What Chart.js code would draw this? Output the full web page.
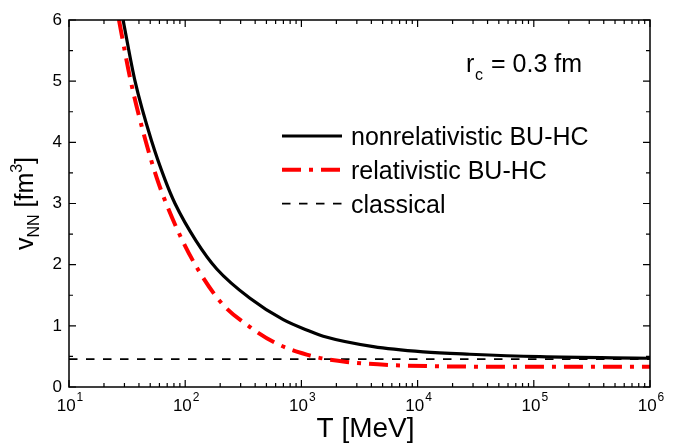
<!DOCTYPE html>
<html>
<head>
<meta charset="utf-8">
<script src="https://cdn.jsdelivr.net/npm/chart.js@4.4.0/dist/chart.umd.min.js"></script>
<style>
html, body { margin: 0; padding: 0; background: #fff; }
#wrap { width: 676px; height: 443px; }
</style>
</head>
<body>
<div id="wrap"><canvas id="chart" width="676" height="443"></canvas></div>
<script>
'use strict';
// T [MeV] and v_NN [fm^3]
var tNonRel = [29.2, 37.0, 51.8, 67.0, 81.7, 124, 187, 361, 698, 1185, 1542, 4160, 11200, 28200, 113000, 1000000];
var vNonRel = [6.0, 5.0, 4.0, 3.39, 3.0, 2.39, 1.93, 1.45, 1.10, 0.91, 0.83, 0.66, 0.575, 0.535, 0.495, 0.47];
var tRel = [26.9, 34.0, 46.0, 56.9, 67.0, 93.3, 130, 206, 361, 612, 1110, 1542, 2455, 5780, 21700, 102000, 1000000];
var vRel = [6.0, 5.0, 4.0, 3.42, 3.05, 2.42, 1.91, 1.37, 0.98, 0.71, 0.53, 0.465, 0.41, 0.36, 0.335, 0.33, 0.33];
var tClassical = [10, 1000000];
var vClassical = [0.455, 0.455];
var xDecades = [10, 100, 1000, 10000, 100000, 1000000];
var xExponents = ['1', '2', '3', '4', '5', '6'];
var yTicks = [0, 1, 2, 3, 4, 5, 6];
var seriesNames = ['nonrelativistic BU-HC', 'relativistic BU-HC', 'classical'];

var FONT = "'Liberation Sans', Arial, sans-serif";

function pts(xs, ys) {
    return xs.map(function(x, i) { return {x: x, y: ys[i]}; });
}

// inward ticks on all four sides, frame, x labels, titles, legend
var decor = {
    id: 'decor',
    afterDraw: function(chart) {
        var ctx = chart.ctx, a = chart.chartArea;
        var sx = chart.scales.x, sy = chart.scales.y;
        ctx.save();
        ctx.strokeStyle = '#000';
        ctx.lineWidth = 1.5;
        ctx.setLineDash([]);
        ctx.strokeRect(a.left, a.top, a.right - a.left, a.bottom - a.top);

        function vtick(px, len) {
            ctx.beginPath();
            ctx.moveTo(px, a.bottom); ctx.lineTo(px, a.bottom - len);
            ctx.moveTo(px, a.top); ctx.lineTo(px, a.top + len);
            ctx.stroke();
        }
        function htick(py, len) {
            ctx.beginPath();
            ctx.moveTo(a.left, py); ctx.lineTo(a.left + len, py);
            ctx.moveTo(a.right, py); ctx.lineTo(a.right - len, py);
            ctx.stroke();
        }
        ctx.lineWidth = 1.2;
        xDecades.forEach(function(d, i) {
            vtick(sx.getPixelForValue(d), 7);
            if (i < xDecades.length - 1) {
                for (var m = 2; m <= 9; m++) vtick(sx.getPixelForValue(d * m), 4);
            }
        });
        yTicks.forEach(function(v, i) {
            htick(sy.getPixelForValue(v), 7);
            if (i < yTicks.length - 1) htick(sy.getPixelForValue(v + 0.5), 4);
        });

        // x tick labels 10^n
        ctx.fillStyle = '#000';
        ctx.textBaseline = 'alphabetic';
        ctx.textAlign = 'left';
        xDecades.forEach(function(d, i) {
            var px = sx.getPixelForValue(d);
            ctx.font = '17px ' + FONT;
            var w1 = ctx.measureText('10').width;
            ctx.font = '12px ' + FONT;
            var w2 = ctx.measureText(xExponents[i]).width;
            var x0 = px - (w1 + w2 + 1) / 2 + 1;
            ctx.font = '17px ' + FONT;
            ctx.fillText('10', x0, 411);
            ctx.font = '12px ' + FONT;
            ctx.fillText(xExponents[i], x0 + w1 + 1, 401);
        });

        // x title
        ctx.font = '28px ' + FONT;
        ctx.textAlign = 'center';
        ctx.fillText('T [MeV]', (a.left + a.right) / 2 + 6, 437);

        // y title, rotated
        var parts = [
            {t: 'v', f: 25, dy: 0},
            {t: 'NN', f: 16, dy: 6},
            {t: ' [fm', f: 25, dy: 0},
            {t: '3', f: 16, dy: -11},
            {t: ']', f: 25, dy: 0}
        ];
        var total = 0;
        parts.forEach(function(p) {
            ctx.font = p.f + 'px ' + FONT;
            p.w = ctx.measureText(p.t).width;
            total += p.w;
        });
        ctx.save();
        ctx.translate(33, (a.top + a.bottom) / 2);
        ctx.rotate(-Math.PI / 2);
        ctx.textAlign = 'left';
        var cx = -total / 2;
        parts.forEach(function(p) {
            ctx.font = p.f + 'px ' + FONT;
            ctx.fillText(p.t, cx, p.dy);
            cx += p.w;
        });
        ctx.restore();

        // r_c = 0.3 fm
        ctx.textAlign = 'left';
        ctx.font = '25px ' + FONT;
        ctx.fillText('r', 466, 72);
        ctx.font = '16px ' + FONT;
        ctx.fillText('c', 475, 80);
        ctx.font = '25px ' + FONT;
        ctx.fillText('= 0.3 fm', 491, 72);

        // legend
        chart.data.datasets.forEach(function(ds, i) {
            var ly = 136 + i * 33.8;
            ctx.strokeStyle = ds.borderColor;
            ctx.lineWidth = ds.borderWidth;
            ctx.setLineDash(ds.borderDash || []);
            ctx.beginPath();
            ctx.moveTo(282, ly);
            ctx.lineTo(342, ly);
            ctx.stroke();
            ctx.setLineDash([]);
            ctx.fillStyle = '#000';
            ctx.font = '25px ' + FONT;
            ctx.fillText(ds.label, 351, ly + 9);
        });
        ctx.restore();
    }
};

var chart = new Chart(document.getElementById('chart'), {
    type: 'line',
    data: {
        datasets: [{
            label: seriesNames[0],
            data: pts(tNonRel, vNonRel),
            borderColor: '#000000',
            borderWidth: 3.2,
            pointRadius: 0,
            cubicInterpolationMode: 'monotone'
        }, {
            label: seriesNames[1],
            data: pts(tRel, vRel),
            borderColor: '#ff0000',
            borderWidth: 4,
            borderDash: [19, 8, 4, 8],
            pointRadius: 0,
            cubicInterpolationMode: 'monotone'
        }, {
            label: seriesNames[2],
            data: pts(tClassical, vClassical),
            borderColor: '#000000',
            borderWidth: 1.6,
            borderDash: [8.5, 8.5],
            pointRadius: 0
        }]
    },
    options: {
        responsive: false,
        animation: false,
        devicePixelRatio: 1,
        layout: { padding: { top: 20, right: 26, left: 0, bottom: 0 } },
        plugins: { legend: { display: false }, tooltip: { enabled: false } },
        scales: {
            x: {
                type: 'logarithmic',
                min: 10,
                max: 1000000,
                grid: { display: false },
                border: { display: false },
                ticks: { display: false },
                afterFit: function(scale) { scale.height = 56; }
            },
            y: {
                type: 'linear',
                min: 0,
                max: 6,
                grid: { display: false, drawTicks: false },
                border: { display: false },
                ticks: {
                    stepSize: 1,
                    padding: 7,
                    color: '#000',
                    font: { size: 17, family: FONT }
                },
                afterFit: function(scale) { scale.width = 69; }
            }
        }
    },
    plugins: [decor]
});
</script>
</body>
</html>
